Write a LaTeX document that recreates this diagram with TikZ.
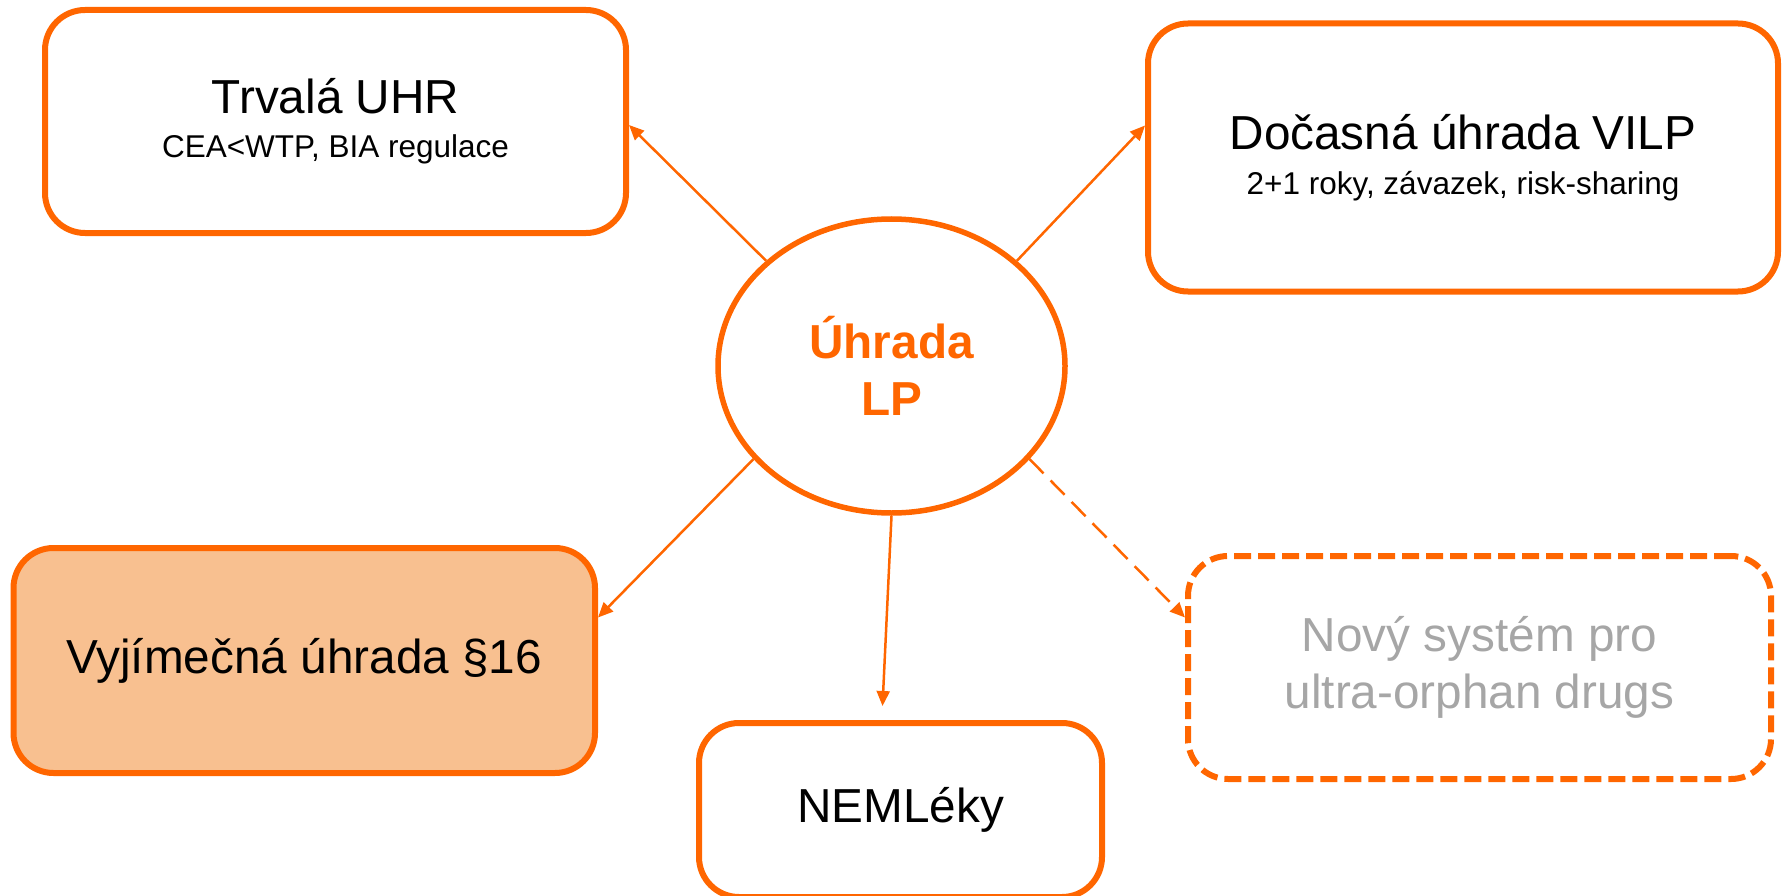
\documentclass[tikz,border=0pt]{standalone}
\usepackage{fontspec}
\setmainfont{Liberation Sans}
\usetikzlibrary{arrows.meta,shapes.geometric}
\definecolor{accent}{HTML}{FF6600}
\definecolor{softfill}{HTML}{F8C090}
\definecolor{muted}{HTML}{A6A6A6}
\newcommand{\bigtxt}{\fontsize{47.7}{57}\selectfont}
\newcommand{\smalltxt}{\fontsize{31.5}{38}\selectfont}

\begin{document}
\begin{tikzpicture}[x=1pt,y=-1pt,
  box/.style={draw=accent, line width=6pt, rounded corners=40pt, inner sep=0pt,
              align=center, font=\bigtxt},
  hub/.style={draw=accent, line width=5.5pt, ellipse, inner sep=0pt, align=center,
              font=\bigtxt\bfseries, text=accent},
  conn/.style={draw=accent, line width=2.5pt, -{Triangle[length=15pt,width=13pt]}},
]
\useasboundingbox (0,0) rectangle (1785,896);

% central ellipse
\node[hub, minimum width=347pt, minimum height=294pt] (ell) at (891.5,366) {Úhrada\\LP};

% surrounding boxes
\node[box, minimum width=581pt, minimum height=223pt] (b1) at (335.5,121.5)
  {Trvalá UHR\\[-13pt]{\smalltxt CEA<WTP, BIA regulace}};
\node[box, minimum width=630pt, minimum height=268pt] (b2) at (1463,157.5)
  {Dočasná úhrada VILP\\[-12pt]{\smalltxt 2+1 roky, závazek, risk-sharing}};
\node[box, fill=softfill, minimum width=581.5pt, minimum height=225pt] (b3) at (304.25,660.5)
  {Vyjímečná úhrada §16};
\node[box, minimum width=403pt, minimum height=174pt] (b4) at (900.5,810)
  {NEMLéky};
\node[box, dash pattern=on 17pt off 7pt, text=muted, minimum width=583pt, minimum height=223pt]
  (b5) at (1479.5,667.5) {Nový systém pro\\ultra-orphan drugs};

% connectors
\draw[conn] (ell.140) -- ([yshift=-3.5pt]b1.east);
\draw[conn] (ell.40) -- ([yshift=32pt]b2.west);
\draw[conn] (ell.214) -- ([yshift=43pt]b3.east);
\draw[conn] (ell.south) -- ([xshift=-18pt,yshift=14pt]b4.north);
\draw[conn, dash pattern=on 20pt off 10pt] (ell.-34) -- ([yshift=50pt]b5.west);
\end{tikzpicture}
\end{document}
